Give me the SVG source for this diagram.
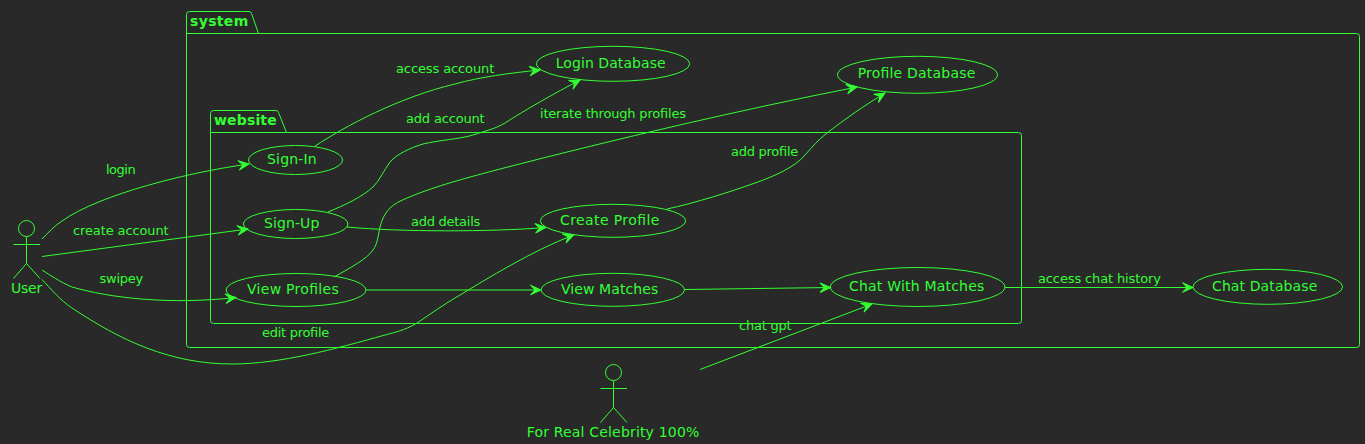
<svg xmlns="http://www.w3.org/2000/svg" width="1365" height="444" viewBox="0 0 1365 444">
<style>
text{font-family:"DejaVu Sans",sans-serif;fill:#33FF33}
.n{font-size:14px}
.l{font-size:13px}
.p{font-size:14px;font-weight:bold}
.s{fill:none;stroke:#33FF33;stroke-width:1}
.c{fill:none;stroke:#33FF33;stroke-width:1;marker-end:url(#a)}
</style>
<defs>
<marker id="a" markerUnits="userSpaceOnUse" markerWidth="14" markerHeight="14" refX="11.5" refY="6" orient="auto" overflow="visible">
<path d="M11.5,6 L1,1.2 L5.5,6 L1,10.8 Z" fill="#33FF33" stroke="#33FF33" stroke-width="1"/>
</marker>
</defs>
<rect width="1365" height="444" fill="#292929"/>
<g id="system">
<path class="s" d="M189.5,11.5 H249 Q251,11.5 251.5,13.5 L258.5,33.5 H1356.5 Q1359.5,33.5 1359.5,36.5 V344.5 Q1359.5,347.5 1356.5,347.5 H189.5 Q186.5,347.5 186.5,344.5 V14.5 Q186.5,11.5 189.5,11.5 Z M186.5,33.5 H258.5"/>
<text class="p" x="190" y="26" textLength="58.3">system</text>
</g>
<g id="website">
<path class="s" d="M213.5,110.5 H276 Q278,110.5 278.5,112.5 L286.5,132.5 H1018.5 Q1021.5,132.5 1021.5,135.5 V320.5 Q1021.5,323.5 1018.5,323.5 H213.5 Q210.5,323.5 210.5,320.5 V113.5 Q210.5,110.5 213.5,110.5 Z M210.5,132.5 H286.5"/>
<text class="p" x="214" y="125" textLength="62.7">website</text>
</g>
<g id="connectors">
<path class="c" d="M42,239 C48,233 54,226 62,221 C100,194 190,172 249,164"/>
<path class="c" d="M42,256.5 L248,229"/>
<path class="c" d="M42,270 C50,275 60,282 72,287 C110,298 170,305 236,297.5"/>
<path class="c" d="M42,279.5 C50,288 60,300 72,308 C120,340 170,364 232,364 C280,364 335,349 385,335 C400,331 408,329 420,321 C432,313 443,305 455,298 C490,277 530,252 574,234.7"/>
<path class="c" d="M314.5,146.5 C345,126 400,97 455,84 C480,77 510,73 540,70"/>
<path class="c" d="M328,212 C345,205 362,197 373,187 C380,180 384,170 390,162 C397,154 410,148 423,144 C440,140 460,139 473,135 C485,131 495,129 505,123 C525,110 555,93 580,80"/>
<path class="c" d="M334,277 C350,268 367,259 373,250 C378,243 378,235 380,227 C382,219 385,213 390,208 C394,204 400,201 407,198 C435,186 470,177 500,169 C620,138 740,110 857,87"/>
<path class="c" d="M667,209 C695,203 730,192 755,183 C775,176 795,167 805,155 C813,146 818,140 827,133 C845,119 865,105 885,93"/>
<path class="c" d="M347,227 C400,232 490,232 545.7,227.5"/>
<path class="c" d="M366,290 L541,290"/>
<path class="c" d="M685,289.5 L830.5,287.5"/>
<path class="c" d="M1005,287.5 L1193,287.5"/>
<path class="c" d="M700,369.5 L872,304"/>
<text class="l" x="106" y="174" textLength="29.7">login</text>
<text class="l" x="73" y="235" textLength="95.7">create account</text>
<text class="l" x="99.5" y="283" textLength="43.8">swipey</text>
<text class="l" x="262" y="337" textLength="67.3">edit profile</text>
<text class="l" x="396" y="73" textLength="98.3">access account</text>
<text class="l" x="406" y="123" textLength="78.7">add account</text>
<text class="l" x="540" y="118" textLength="146">iterate through profiles</text>
<text class="l" x="731" y="156" textLength="67.3">add profile</text>
<text class="l" x="411" y="226" textLength="69.3">add details</text>
<text class="l" x="739" y="330" textLength="52.7">chat gpt</text>
<text class="l" x="1038" y="283" textLength="123">access chat history</text>
</g>
<g id="sign-in"><ellipse class="s" cx="295.5" cy="160" rx="47" ry="14.5"/><text class="n" x="267" y="164" textLength="49.7">Sign-In</text></g>
<g id="sign-up"><ellipse class="s" cx="295.7" cy="224" rx="52.3" ry="14.5"/><text class="n" x="264" y="228" textLength="55.3">Sign-Up</text></g>
<g id="view-profiles"><ellipse class="s" cx="296" cy="290" rx="70" ry="16.5"/><text class="n" x="247" y="294" textLength="91.7">View Profiles</text></g>
<g id="login-database"><ellipse class="s" cx="613" cy="63.8" rx="76.7" ry="17.5"/><text class="n" x="555.7" y="68" textLength="110">Login Database</text></g>
<g id="profile-database"><ellipse class="s" cx="917.5" cy="74.8" rx="80" ry="18.5"/><text class="n" x="857.7" y="78" textLength="117.6">Profile Database</text></g>
<g id="create-profile"><ellipse class="s" cx="613" cy="220.8" rx="72.7" ry="16.5"/><text class="n" x="560" y="225" textLength="99.3">Create Profile</text></g>
<g id="view-matches"><ellipse class="s" cx="612.8" cy="289.8" rx="71.8" ry="16.5"/><text class="n" x="561" y="294" textLength="97.3">View Matches</text></g>
<g id="chat-with-matches"><ellipse class="s" cx="917.6" cy="287" rx="87.3" ry="19.5"/><text class="n" x="849" y="290.5" textLength="135.3">Chat With Matches</text></g>
<g id="chat-database"><ellipse class="s" cx="1267.8" cy="286.8" rx="74.8" ry="17.5"/><text class="n" x="1212" y="291" textLength="105.3">Chat Database</text></g>
<g id="user">
<circle class="s" cx="26.5" cy="228.5" r="8"/>
<path class="s" d="M26.5,236.5 V263.5 M13.5,244.5 H40 M26.5,263.5 L13.5,278.5 M26.5,263.5 L40,278.5"/>
<text class="n" x="11" y="293" textLength="31.3">User</text>
</g>
<g id="celebrity">
<circle class="s" cx="613.5" cy="372.5" r="8"/>
<path class="s" d="M613.5,380.5 V407.5 M600.5,388.5 H627 M613.5,407.5 L600.5,422.5 M613.5,407.5 L627,422.5"/>
<text class="n" x="526.7" y="437" textLength="172.6">For Real Celebrity 100%</text>
</g>
</svg>
